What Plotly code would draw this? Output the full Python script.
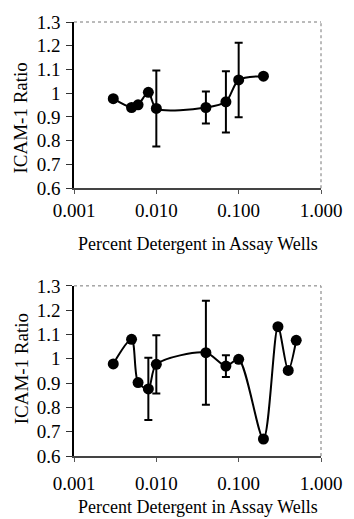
import plotly.graph_objects as go

# Top panel data
top_x = [0.003, 0.005, 0.006, 0.008, 0.01, 0.04, 0.07, 0.1, 0.2]
top_y = [0.977, 0.940, 0.951, 1.004, 0.936, 0.940, 0.964, 1.056, 1.072]
top_err = [0, 0, 0, 0, 0.160, 0.067, 0.129, 0.157, 0]

# Bottom panel data
bot_x = [0.003, 0.005, 0.006, 0.008, 0.01, 0.04, 0.07, 0.1, 0.2, 0.3, 0.4, 0.5]
bot_y = [0.979, 1.080, 0.902, 0.876, 0.977, 1.025, 0.970, 0.998, 0.670, 1.132, 0.952, 1.076]
bot_err = [0, 0, 0, 0.128, 0.120, 0.214, 0.045, 0, 0, 0, 0, 0]

x_tickvals = [0.001, 0.01, 0.1, 1]
x_ticktext = ["0.001", "0.010", "0.100", "1.000"]
y_tickvals = [0.6, 0.7, 0.8, 0.9, 1.0, 1.1, 1.2, 1.3]
y_ticktext = ["0.6", "0.7", "0.8", "0.9", "1", "1.1", "1.2", "1.3"]

x_title = "Percent Detergent in Assay Wells"
y_title = "ICAM-1 Ratio"

FONT = "Liberation Serif"

fig = go.Figure()

def add_series(xs, ys, errs, xa, ya):
    fig.add_trace(go.Scatter(
        x=xs, y=ys, xaxis=xa, yaxis=ya, mode="lines+markers",
        line=dict(color="black", width=2, shape="spline", smoothing=0.8),
        marker=dict(color="black", size=11),
        error_y=dict(type="data", array=errs, visible=True, color="black",
                     thickness=2, width=4),
        showlegend=False, cliponaxis=False,
    ))

add_series(top_x, top_y, top_err, "x", "y")
add_series(bot_x, bot_y, bot_err, "x2", "y2")

xaxis_common = dict(
    type="log", range=[-3, 0], tickvals=x_tickvals, ticktext=x_ticktext,
    ticks="outside", ticklen=4, tickcolor="#555", tickwidth=1,
    showline=True, linecolor="#444", linewidth=1.5,
    showgrid=False, zeroline=False,
    tickfont=dict(family=FONT, size=19, color="black"),
)
yaxis_common = dict(
    range=[0.6, 1.3], tickvals=y_tickvals, ticktext=y_ticktext,
    ticks="outside", ticklen=6, tickcolor="#333", tickwidth=1,
    showline=True, linecolor="black", linewidth=1.5,
    showgrid=False, zeroline=False,
    tickfont=dict(family=FONT, size=19, color="black"),
    ticklabelstandoff=2,
)

fig.update_layout(
    width=354, height=519,
    margin=dict(l=74, r=24, t=20, b=63),
    paper_bgcolor="white", plot_bgcolor="white",
    font=dict(family=FONT),
    xaxis=dict(**xaxis_common, domain=[0, 1], anchor="y", ticklabelstandoff=0),
    yaxis=dict(**yaxis_common, domain=[0.617, 1], anchor="x"),
    xaxis2=dict(**xaxis_common, domain=[0, 1], anchor="y2", ticklabelstandoff=5),
    yaxis2=dict(**yaxis_common, domain=[0, 0.392], anchor="x2"),
)

# dotted top/right frame
for xr, yr in (("x domain", "y domain"), ("x2 domain", "y2 domain")):
    fig.add_shape(type="line", xref=xr, yref=yr, x0=0, x1=1, y0=1, y1=1,
                  line=dict(color="#777", width=1, dash="dot"))
    fig.add_shape(type="line", xref=xr, yref=yr, x0=1, x1=1, y0=0, y1=1,
                  line=dict(color="#777", width=1, dash="dot"))

# axis titles
H = 436.0
W = 256.0
def py(p):
    return (456 - p) / H
def px(p):
    return (p - 74) / W

for yy in (243, 507):
    fig.add_annotation(text=x_title, xref="paper", yref="paper",
                       x=px(202), y=py(yy), xanchor="center", yanchor="middle",
                       showarrow=False,
                       font=dict(family=FONT, size=18, color="black"))
for yy in (116, 368):
    fig.add_annotation(text=y_title, xref="paper", yref="paper",
                       x=px(19), y=py(yy), xanchor="center", yanchor="middle",
                       showarrow=False, textangle=-90,
                       font=dict(family=FONT, size=19, color="black"))

fig.write_html("out.html")
